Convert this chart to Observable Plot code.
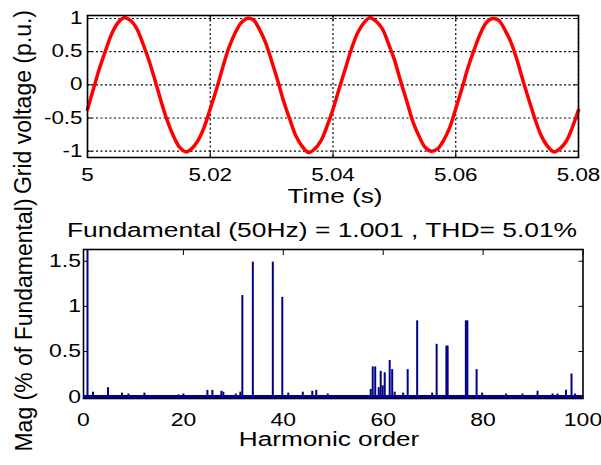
<!DOCTYPE html>
<html><head><meta charset="utf-8">
<script src="https://cdn.jsdelivr.net/npm/d3@7"></script>
<script src="https://cdn.jsdelivr.net/npm/@observablehq/plot@0.6"></script>
<style>
body{margin:0;background:#fff;}
#wrap{position:relative;width:601px;height:465px;overflow:hidden;background:#fff;font-family:Arial,"Liberation Sans",Helvetica,sans-serif;}
.lbl{position:absolute;white-space:nowrap;color:#000;line-height:0.7;}
</style></head>
<body><div id="wrap"></div>
<script>
// ---- data: top panel (grid voltage, p.u.), sampled every 1 ms from t = 5 s ----
const startTime = 5;
const sampleStep = 0.001;
const gridVoltage = [
  -0.37, -0.05, 0.26, 0.53, 0.78, 0.94, 1.01, 0.97, 0.85, 0.63,
   0.37, 0.07, -0.25, -0.54, -0.77, -0.94, -1.01, -0.96, -0.84, -0.64,
  -0.36, -0.07, 0.25, 0.55, 0.77, 0.93, 1.00, 0.98, 0.84, 0.64,
   0.36, 0.06, -0.26, -0.53, -0.78, -0.93, -1.02, -0.97, -0.85, -0.63,
  -0.37, -0.06, 0.24, 0.54, 0.78, 0.93, 1.01, 0.96, 0.85, 0.63,
   0.38, 0.06, -0.24, -0.55, -0.77, -0.94, -1.00, -0.97, -0.84, -0.65,
  -0.36, -0.06, 0.26, 0.53, 0.77, 0.94, 1.00, 0.97, 0.83, 0.64,
   0.37, 0.05, -0.25, -0.54, -0.78, -0.93, -1.01, -0.96, -0.85, -0.64,
  -0.38
];
const topXTicks = [5, 5.02, 5.04, 5.06, 5.08];
const topXTickLabels = ["5", "5.02", "5.04", "5.06", "5.08"];
const topYTicks = [-1, -0.5, 0, 0.5, 1];
const topYTickLabels = ["-1", "-0.5", "0", "0.5", "1"];

// ---- data: bottom panel (harmonic spectrum) ----
const harmonicOrder = [0.8, 1.9, 4.9, 7.7, 9, 12.2, 19, 20, 24.8, 25.8, 27.6, 28, 30.5, 31.4,
  31.8, 33.9, 37.9, 39.8, 41, 43.9, 45.8, 46.6, 48.9,
  57.5, 57.9, 58.4, 59.1, 59.5, 59.9, 60.3, 61.3, 61.8, 62.3, 64, 64.9, 66.8,
  69.8, 70.7, 72.65, 72.9, 76.55, 76.85, 78.7, 79.8, 84.6, 87.9, 90.9, 93.9, 94.9, 96.6, 97.7, 98.4];
const harmonicMag = [100, 0.05, 0.10, 0.04, 0.03, 0.04, 0.02, 0.03, 0.07, 0.07, 0.06, 0.05, 0.03, 0.05,
  1.12, 1.49, 1.49, 1.10, 0.04, 0.05, 0.06, 0.07, 0.03,
  0.08, 0.33, 0.33, 0.10, 0.28, 0.12, 0.265, 0.40, 0.30, 0.05, 0.04, 0.30, 0.84,
  0.04, 0.58, 0.56, 0.56, 0.84, 0.84, 0.30, 0.04, 0.03, 0.03, 0.06, 0.03, 0.03, 0.07, 0.25, 0.03];
const botXTicks = [0, 20, 40, 60, 80, 100];
const botXTickLabels = ["0", "20", "40", "60", "80", "100"];
const botYTicks = [0, 0.5, 1, 1.5];
const botYTickLabels = ["0", "0.5", "1", "1.5"];

const titleText = "Fundamental (50Hz) = 1.001 , THD= 5.01%";
const topXLabel = "Time (s)";
const topYLabel = "Grid voltage (p.u.)";
const botXLabel = "Harmonic order";
const botYLabel = "Mag (% of Fundamental)";

// ---- build ----
const voltage = gridVoltage.map((v, i) => ({t: startTime + i * sampleStep, v}));
const spectrum = harmonicOrder.map((h, i) => ({h, m: harmonicMag[i]}));
const labelOf = (ticks, labels) => d => labels[ticks.indexOf(d)] ?? "";
const FONT = 'Arial, "Liberation Sans", Helvetica, sans-serif';
const NAVY = "#00008b";
const wrap = document.getElementById("wrap");

function stretch(svg, s) {
  svg.querySelectorAll("text").forEach(t => {
    const x = parseFloat(t.getAttribute("x")) || 0;
    const tr = t.getAttribute("transform") || "";
    t.setAttribute("transform", (tr + ` translate(${x},0) scale(${s},1) translate(${-x},0)`).trim());
  });
}
function place(svg, top) {
  svg.style.position = "absolute";
  svg.style.left = "0px";
  svg.style.top = top + "px";
  svg.style.overflow = "visible";
  wrap.appendChild(svg);
}
function label(text, cx, cy, size, sx, rotate) {
  const d = document.createElement("div");
  d.className = "lbl";
  d.textContent = text;
  d.style.fontSize = size + "px";
  d.style.left = cx + "px";
  d.style.top = cy + "px";
  d.style.transform = `translate(-50%,-50%) scaleX(${sx})` + (rotate ? " rotate(-90deg)" : "");
  wrap.appendChild(d);
}

const inward = (axis, anchor, ticks) => axis({anchor, ticks, tickSize: -5, tickFormat: () => "", label: null, stroke: "black"});

const topPlot = Plot.plot({
  width: 601, height: 200,
  marginLeft: 87, marginRight: 23, marginTop: 15, marginBottom: 43,
  x: {domain: [5, 5.08]},
  y: {domain: [-1.095, 1.045]},
  style: {fontFamily: FONT, fontSize: "17.5px", color: "black", background: "white"},
  marks: [
    Plot.gridX(topXTicks, {stroke: "black", strokeOpacity: 1, strokeWidth: 1.2, strokeDasharray: "2,2.5"}),
    Plot.gridY(topYTicks, {stroke: "black", strokeOpacity: 1, strokeWidth: 1.2, strokeDasharray: "2,2.5"}),
    Plot.axisX({ticks: topXTicks, tickSize: 0, tickPadding: 11.5, tickFormat: labelOf(topXTicks, topXTickLabels), label: null}),
    Plot.axisY({ticks: topYTicks, tickSize: 0, tickPadding: 5, tickFormat: labelOf(topYTicks, topYTickLabels), label: null}),
    inward(Plot.axisY, "right", topYTicks),
    inward(Plot.axisY, "left", topYTicks),
    inward(Plot.axisX, "top", topXTicks),
    inward(Plot.axisX, "bottom", topXTicks),
    Plot.line(voltage, {x: "t", y: "v", stroke: "#ff0000", strokeWidth: 3.5, curve: "catmull-rom"}),
    Plot.frame({stroke: "black", strokeWidth: 1.6})
  ]
});
stretch(topPlot, 1.28);
place(topPlot, 0);

const botPlot = Plot.plot({
  width: 601, height: 265,
  marginLeft: 83, marginRight: 18.5, marginTop: 49, marginBottom: 67,
  x: {domain: [0, 100]},
  y: {domain: [-0.02, 1.63]},
  style: {fontFamily: FONT, fontSize: "18.5px", color: "black", background: "white"},
  marks: [
    Plot.axisX({ticks: botXTicks, tickSize: 0, tickPadding: 14, tickFormat: labelOf(botXTicks, botXTickLabels), label: null}),
    Plot.axisY({ticks: botYTicks, tickSize: 0, tickPadding: 2.5, tickFormat: labelOf(botYTicks, botYTickLabels), label: null}),
    inward(Plot.axisY, "right", botYTicks),
    inward(Plot.axisY, "left", botYTicks),
    inward(Plot.axisX, "top", botXTicks),
    Plot.ruleX(spectrum, {x: "h", y1: 0, y2: "m", stroke: NAVY, strokeWidth: 2, clip: true}),
    Plot.frame({stroke: "black", strokeWidth: 1.6}),
    Plot.ruleY([0], {stroke: NAVY, strokeWidth: 3.2})
  ]
});
stretch(botPlot, 1.24);
place(botPlot, 200);

label(topXLabel, 335, 196, 20, 1.31, false);
label(titleText, 322, 230, 20, 1.32, false);
label(botXLabel, 329, 439, 20, 1.31, false);
label(topYLabel, 22.5, 101.5, 23, 1, true);
label(botYLabel, 24, 324.5, 23, 1, true);
</script>
</body></html>
